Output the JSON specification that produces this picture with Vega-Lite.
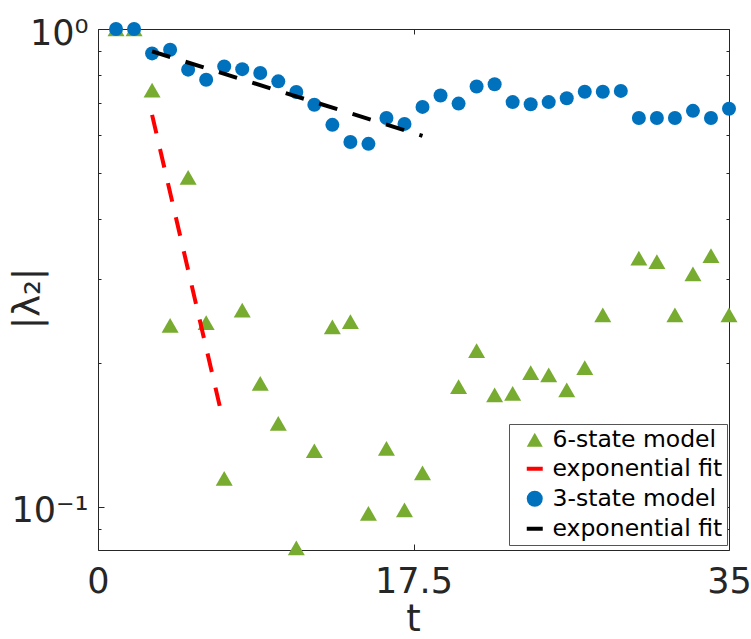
{
  "$schema": "https://vega.github.io/schema/vega-lite/v6.json",
  "width": 631,
  "height": 521,
  "autosize": {"type": "none"},
  "padding": {"left": 98, "top": 29, "right": 22, "bottom": 89},
  "background": "white",
  "config": {
    "font": "DejaVu Sans",
    "view": {"stroke": null},
    "axis": {"grid": false, "domainColor": "#262626", "domainWidth": 1, "tickColor": "#262626", "tickWidth": 1, "labelColor": "#262626", "titleColor": "#262626", "labelFont": "DejaVu Sans", "titleFont": "DejaVu Sans", "titleFontWeight": "normal"}
  },
  "data": {"values": [
    {"t": 1, "v": 1.0, "series": "6-state model"},
    {"t": 2, "v": 1.0, "series": "6-state model"},
    {"t": 3, "v": 0.745, "series": "6-state model"},
    {"t": 4, "v": 0.2396, "series": "6-state model"},
    {"t": 5, "v": 0.489, "series": "6-state model"},
    {"t": 6, "v": 0.243, "series": "6-state model"},
    {"t": 7, "v": 0.1147, "series": "6-state model"},
    {"t": 8, "v": 0.258, "series": "6-state model"},
    {"t": 9, "v": 0.1813, "series": "6-state model"},
    {"t": 10, "v": 0.1495, "series": "6-state model"},
    {"t": 11, "v": 0.082, "series": "6-state model"},
    {"t": 12, "v": 0.131, "series": "6-state model"},
    {"t": 13, "v": 0.238, "series": "6-state model"},
    {"t": 14, "v": 0.244, "series": "6-state model"},
    {"t": 15, "v": 0.0969, "series": "6-state model"},
    {"t": 16, "v": 0.1325, "series": "6-state model"},
    {"t": 17, "v": 0.0985, "series": "6-state model"},
    {"t": 18, "v": 0.1178, "series": "6-state model"},
    {"t": 20, "v": 0.1784, "series": "6-state model"},
    {"t": 21, "v": 0.2122, "series": "6-state model"},
    {"t": 22, "v": 0.1714, "series": "6-state model"},
    {"t": 23, "v": 0.1728, "series": "6-state model"},
    {"t": 24, "v": 0.1909, "series": "6-state model"},
    {"t": 25, "v": 0.1888, "series": "6-state model"},
    {"t": 26, "v": 0.1756, "series": "6-state model"},
    {"t": 27, "v": 0.1956, "series": "6-state model"},
    {"t": 28, "v": 0.2521, "series": "6-state model"},
    {"t": 30, "v": 0.3314, "series": "6-state model"},
    {"t": 31, "v": 0.326, "series": "6-state model"},
    {"t": 32, "v": 0.2521, "series": "6-state model"},
    {"t": 33, "v": 0.3073, "series": "6-state model"},
    {"t": 34, "v": 0.3356, "series": "6-state model"},
    {"t": 35, "v": 0.2521, "series": "6-state model"},
    {"t": 3, "v": 0.661, "series": "fit6"},
    {"t": 6.75, "v": 0.1626, "series": "fit6"},
    {"t": 1, "v": 1.0, "series": "3-state model"},
    {"t": 2, "v": 1.0, "series": "3-state model"},
    {"t": 3, "v": 0.889, "series": "3-state model"},
    {"t": 4, "v": 0.905, "series": "3-state model"},
    {"t": 5, "v": 0.822, "series": "3-state model"},
    {"t": 6, "v": 0.783, "series": "3-state model"},
    {"t": 7, "v": 0.835, "series": "3-state model"},
    {"t": 8, "v": 0.824, "series": "3-state model"},
    {"t": 9, "v": 0.809, "series": "3-state model"},
    {"t": 10, "v": 0.777, "series": "3-state model"},
    {"t": 11, "v": 0.738, "series": "3-state model"},
    {"t": 12, "v": 0.694, "series": "3-state model"},
    {"t": 13, "v": 0.63, "series": "3-state model"},
    {"t": 14, "v": 0.58, "series": "3-state model"},
    {"t": 15, "v": 0.575, "series": "3-state model"},
    {"t": 16, "v": 0.651, "series": "3-state model"},
    {"t": 17, "v": 0.633, "series": "3-state model"},
    {"t": 18, "v": 0.687, "series": "3-state model"},
    {"t": 19, "v": 0.726, "series": "3-state model"},
    {"t": 20, "v": 0.698, "series": "3-state model"},
    {"t": 21, "v": 0.758, "series": "3-state model"},
    {"t": 22, "v": 0.766, "series": "3-state model"},
    {"t": 23, "v": 0.703, "series": "3-state model"},
    {"t": 24, "v": 0.696, "series": "3-state model"},
    {"t": 25, "v": 0.703, "series": "3-state model"},
    {"t": 26, "v": 0.716, "series": "3-state model"},
    {"t": 27, "v": 0.739, "series": "3-state model"},
    {"t": 28, "v": 0.739, "series": "3-state model"},
    {"t": 29, "v": 0.742, "series": "3-state model"},
    {"t": 30, "v": 0.651, "series": "3-state model"},
    {"t": 31, "v": 0.651, "series": "3-state model"},
    {"t": 32, "v": 0.651, "series": "3-state model"},
    {"t": 33, "v": 0.674, "series": "3-state model"},
    {"t": 34, "v": 0.651, "series": "3-state model"},
    {"t": 35, "v": 0.681, "series": "3-state model"},
    {"t": 3, "v": 0.898, "series": "fit3"},
    {"t": 18, "v": 0.5976, "series": "fit3"}
  ]},
  "resolve": {"axis": {"x": "independent", "y": "independent"}},
  "layer": [
    {
      "transform": [{"filter": "datum.series == '6-state model'"}],
      "mark": {"type": "point", "filled": true, "size": 289, "opacity": 1, "clip": false},
      "encoding": {
        "x": {"field": "t", "type": "quantitative", "scale": {"domain": [0, 35], "nice": false, "zero": false},
          "axis": {"orient": "bottom", "values": [0, 17.5, 35], "format": ".3~g", "tickSize": -6, "labelFontSize": 35, "labelPadding": 20, "labelFlush": false, "labelOverlap": false,
            "title": "t", "titleFontSize": 37, "titleX": 315, "titleY": 80, "titleBaseline": "alphabetic", "titleAlign": "center"}},
        "y": {"field": "v", "type": "quantitative", "scale": {"type": "log", "domain": [0.0812, 1], "nice": false},
          "axis": {"orient": "left", "values": [0.09, 0.1, 0.2, 0.3, 0.4, 0.5, 0.6, 0.7, 0.8, 0.9, 1],
            "labelExpr": "datum.value == 1 ? '10⁰' : (datum.value == 0.1 ? '10⁻¹' : '')",
            "tickSize": {"condition": {"test": "datum.value == 1 || datum.value == 0.1", "value": -6}, "value": -3},
            "labelFontSize": 35, "labelPadding": 16, "labelOffset": 4, "labelOverlap": false, "labelFlush": false, "labelBaseline": "middle",
            "title": "|λ₂|", "titleFontSize": 37, "titleAngle": 270, "titleX": -59, "titleY": 269, "titleAlign": "center", "titleBaseline": "alphabetic"}},
        "color": {"field": "series", "type": "nominal", "title": null,
          "scale": {"domain": ["6-state model", "fit6", "3-state model", "fit3"], "range": ["#77AC30", "#FF0000", "#0072BD", "#000000"]},
          "legend": {"orient": "none", "legendX": 411, "legendY": 395, "labelExpr": "datum.label == 'fit6' || datum.label == 'fit3' ? 'exponential fit' : datum.label",
            "labelFont": "DejaVu Sans", "labelFontSize": 23.5, "labelLimit": 400, "labelColor": "#000000", "symbolSize": 256, "symbolStrokeWidth": 4, "strokeColor": "#555555", "fillColor": "white", "padding": 4, "rowPadding": 1, "symbolOffset": 10, "labelOffset": 6,
            "encoding": {"symbols": {"stroke": {"condition": [{"test": "datum.value === 'fit6'", "value": "#FF0000"}, {"test": "datum.value === 'fit3'", "value": "#000000"}], "value": "transparent"}}}}},
        "shape": {"field": "series", "type": "nominal", "title": null,
          "scale": {"domain": ["6-state model", "fit6", "3-state model", "fit3"], "range": ["triangle-up", "stroke", "circle", "stroke"]},
          "legend": {"orient": "none", "legendX": 411, "legendY": 395, "labelExpr": "datum.label == 'fit6' || datum.label == 'fit3' ? 'exponential fit' : datum.label",
            "labelFont": "DejaVu Sans", "labelFontSize": 23.5, "labelLimit": 400, "labelColor": "#000000", "symbolSize": 256, "symbolStrokeWidth": 4, "strokeColor": "#555555", "fillColor": "white", "padding": 4, "rowPadding": 1, "symbolOffset": 10, "labelOffset": 6,
            "encoding": {"symbols": {"stroke": {"condition": [{"test": "datum.value === 'fit6'", "value": "#FF0000"}, {"test": "datum.value === 'fit3'", "value": "#000000"}], "value": "transparent"}}}}}
      }
    },
    {
      "transform": [{"filter": "datum.series == 'fit6'"}],
      "mark": {"type": "line", "color": "#FF0000", "strokeWidth": 4, "strokeDash": [19, 16]},
      "encoding": {
        "x": {"field": "t", "type": "quantitative", "axis": null},
        "y": {"field": "v", "type": "quantitative", "axis": null}
      }
    },
    {
      "transform": [{"filter": "datum.series == '3-state model'"}],
      "mark": {"type": "point", "filled": true, "size": 196, "opacity": 1, "clip": false},
      "encoding": {
        "x": {"field": "t", "type": "quantitative",
          "axis": {"orient": "top", "values": [0, 17.5, 35], "tickSize": -5, "labels": false, "title": null}},
        "y": {"field": "v", "type": "quantitative",
          "axis": {"orient": "right", "values": [0.09, 0.1, 0.2, 0.3, 0.4, 0.5, 0.6, 0.7, 0.8, 0.9, 1], "labels": false, "title": null,
            "tickSize": {"condition": {"test": "datum.value == 1 || datum.value == 0.1", "value": -6}, "value": -3}}},
        "color": {"field": "series", "type": "nominal", "title": null,
          "legend": {"orient": "none", "legendX": 411, "legendY": 395, "labelExpr": "datum.label == 'fit6' || datum.label == 'fit3' ? 'exponential fit' : datum.label",
            "labelFont": "DejaVu Sans", "labelFontSize": 23.5, "labelLimit": 400, "labelColor": "#000000", "symbolSize": 256, "symbolStrokeWidth": 4, "strokeColor": "#555555", "fillColor": "white", "padding": 4, "rowPadding": 1, "symbolOffset": 10, "labelOffset": 6,
            "encoding": {"symbols": {"stroke": {"condition": [{"test": "datum.value === 'fit6'", "value": "#FF0000"}, {"test": "datum.value === 'fit3'", "value": "#000000"}], "value": "transparent"}}}}},
        "shape": {"field": "series", "type": "nominal", "title": null,
          "legend": {"orient": "none", "legendX": 411, "legendY": 395, "labelExpr": "datum.label == 'fit6' || datum.label == 'fit3' ? 'exponential fit' : datum.label",
            "labelFont": "DejaVu Sans", "labelFontSize": 23.5, "labelLimit": 400, "labelColor": "#000000", "symbolSize": 256, "symbolStrokeWidth": 4, "strokeColor": "#555555", "fillColor": "white", "padding": 4, "rowPadding": 1, "symbolOffset": 10, "labelOffset": 6,
            "encoding": {"symbols": {"stroke": {"condition": [{"test": "datum.value === 'fit6'", "value": "#FF0000"}, {"test": "datum.value === 'fit3'", "value": "#000000"}], "value": "transparent"}}}}}
      }
    },
    {
      "transform": [{"filter": "datum.series == 'fit3'"}],
      "mark": {"type": "line", "color": "#000000", "strokeWidth": 4, "strokeDash": [19, 16]},
      "encoding": {
        "x": {"field": "t", "type": "quantitative", "axis": null},
        "y": {"field": "v", "type": "quantitative", "axis": null}
      }
    }
  ]
}
